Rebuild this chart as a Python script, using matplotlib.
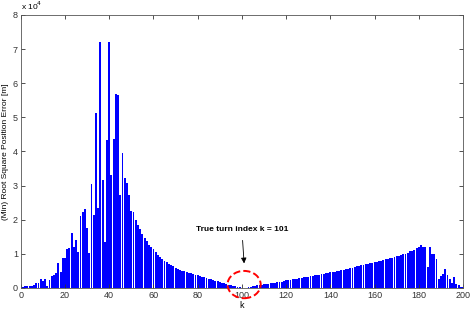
import matplotlib
matplotlib.use('Agg')
import matplotlib.pyplot as plt
from matplotlib.patches import Ellipse

plt.rcParams['font.family'] = ['Liberation Sans', 'DejaVu Sans']

# step index k = 1..200
k = list(range(1, 201))

# (Min) root square position error, in units of 1e4 m
err_rise = [0.03, 0.06, 0.06, 0.06, 0.06, 0.08, 0.16, 0.16, 0.25, 0.20,
            0.25, 0.05, 0.22, 0.34, 0.37, 0.43, 0.72, 0.47, 0.89, 0.87,
            1.15, 1.18, 1.61, 1.19, 1.40, 1.05, 2.12, 2.22, 2.31, 1.75,
            1.03, 3.06, 2.14, 5.12, 2.35, 7.22, 3.17, 1.35, 4.33, 7.22,
            3.30, 4.36, 5.69, 5.64]
err_decay = [2.73, 3.95, 3.22, 3.07, 2.73, 2.27, 2.24, 2.00, 1.86, 1.72,
             1.59, 1.47, 1.37, 1.27, 1.19, 1.13, 1.04, 0.97, 0.91, 0.86,
             0.80, 0.75, 0.71, 0.67, 0.63, 0.60, 0.57, 0.54, 0.51, 0.49,
             0.47, 0.45, 0.43, 0.41, 0.39, 0.37, 0.35, 0.33, 0.31, 0.29,
             0.27, 0.25, 0.23, 0.21, 0.20, 0.18, 0.16, 0.14, 0.12, 0.10,
             0.08, 0.07, 0.05, 0.04, 0.02, 0.01]
err_after = [0.005, 0.01, 0.02, 0.035, 0.05, 0.065, 0.08, 0.09, 0.10, 0.11,
             0.12, 0.13, 0.14, 0.15, 0.16, 0.17, 0.18, 0.19, 0.20, 0.22,
             0.23, 0.24, 0.25, 0.26, 0.27, 0.28, 0.30, 0.31, 0.32, 0.33,
             0.34, 0.35, 0.37, 0.38, 0.39, 0.40, 0.42, 0.43, 0.44, 0.46,
             0.47, 0.48, 0.50, 0.51, 0.52, 0.54, 0.55, 0.57, 0.58, 0.60,
             0.61, 0.63, 0.64, 0.66, 0.67, 0.69, 0.70, 0.72, 0.74, 0.75,
             0.77, 0.79, 0.80, 0.82, 0.84, 0.86, 0.87, 0.89, 0.91, 0.93,
             0.95, 0.97, 0.99, 1.01, 1.03, 1.08, 1.07, 1.10, 1.16, 1.21,
             1.25, 1.19, 1.19, 0.62, 1.21, 0.99, 0.99, 0.86, 0.27, 0.35,
             0.42, 0.57, 0.38, 0.27, 0.15, 0.33, 0.12, 0.10, 0.04, 0.04]
err = err_rise + err_decay + err_after

true_turn = 101

fig = plt.figure(figsize=(4.72, 3.11), dpi=100)
ax = fig.add_axes([0.044, 0.074, 0.937, 0.878])

ax.bar(k, err, width=0.85, color=(0, 0, 1), edgecolor='none')

ax.set_xlim(0, 200)
ax.set_ylim(0, 8)
ax.set_xticks(range(0, 201, 20))
ax.set_yticks(range(0, 9))
ax.tick_params(direction='in', length=3, width=0.6, top=True, right=True,
               labelsize=6.5, colors='#333333', pad=2)
for s in ax.spines.values():
    s.set_linewidth(0.6)
    s.set_color('#555555')

ax.set_xlabel('k', fontsize=6.5, labelpad=1)
ax.set_ylabel('(Min) Root Square Position Error [m]', fontsize=6, labelpad=3)
ax.text(0, 1.012, r'x 10$^{4}$', transform=ax.transAxes, fontsize=6,
        ha='left', va='bottom')

ax.annotate('True turn index k = ' + str(true_turn), xy=(true_turn, 0.72),
            xytext=(100, 1.7), fontsize=6, fontweight='bold', ha='center',
            va='center',
            arrowprops=dict(arrowstyle='-|>', color='black', lw=0.6,
                            shrinkA=3, shrinkB=0, mutation_scale=8))

ax.add_patch(Ellipse((true_turn, 0.1), 15, 0.8, fill=False, edgecolor='red',
                     linestyle='--', linewidth=1.4, clip_on=False, zorder=5))

fig.savefig('out.png', dpi=100)
